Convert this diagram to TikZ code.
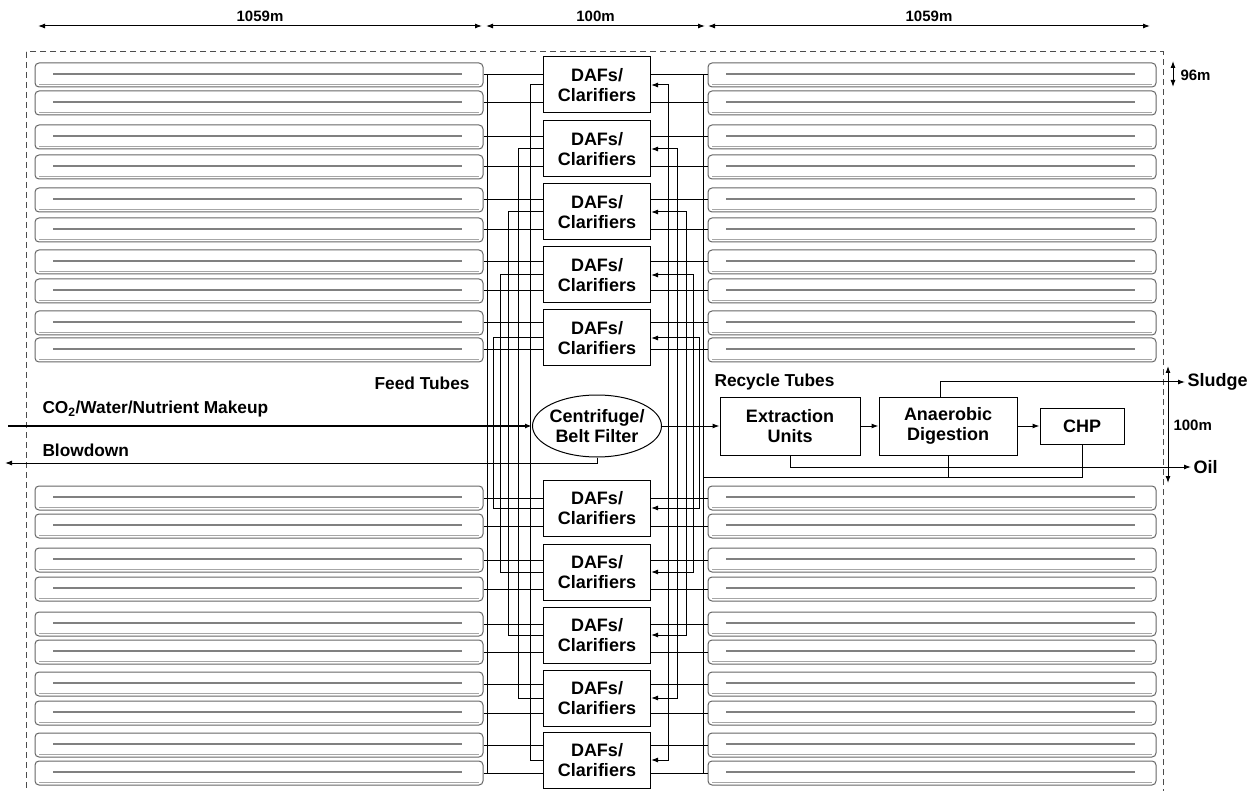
\documentclass[tikz,border=0pt]{standalone}
\usepackage{fontspec}
\setmainfont{Liberation Sans}
\usetikzlibrary{arrows.meta,shapes.geometric}
\tikzset{
  tube/.style={draw=black!60,line width=1pt,rounded corners=4pt,minimum width=448pt,minimum height=24pt,inner sep=0pt,
    path picture={
      \draw[black!50,line width=1.8pt] ([xshift=18pt,yshift=1pt]path picture bounding box.west) -- ([xshift=-21pt,yshift=1pt]path picture bounding box.east);
      \draw[black!35,line width=1pt] ([xshift=4pt,yshift=2.5pt]path picture bounding box.south west) -- ([xshift=-4pt,yshift=2.5pt]path picture bounding box.south east);}},
  unit/.style={draw,line width=1pt,align=center,font=\fontsize{18}{20}\selectfont\bfseries,inner sep=0pt},
  daf/.style={unit,minimum width=107pt,minimum height=56pt},
  tip/.style={-{Latex[length=7pt,width=5pt]}},
  dim/.style={{Latex[length=7pt,width=5pt]}-{Latex[length=7pt,width=5pt]},line width=1pt},
  lbl/.style={font=\fontsize{17.3}{19}\selectfont\bfseries,inner sep=2pt},
  dimlbl/.style={font=\fontsize{15}{17}\selectfont\bfseries,inner sep=2pt},
}
\begin{document}
\begin{tikzpicture}[x=1pt,y=-1pt,line width=1pt]
  \useasboundingbox (0,0) rectangle (1258,791);
  \draw[black!70,line width=1pt,dash pattern=on 6pt off 4pt] (26,52) rectangle (1163,800);
  \foreach \y [count=\i] in {75,103,137,167,200,230,262,291,323,350,498,526,560,589,624,652,684,713,745,773}{
    \node[tube] (tL\i) at (259,\y) {};
    \node[tube] (tR\i) at (932,\y) {};
  }
  \foreach \y [count=\k] in {85,149,212,275,338,508,572,635,698,760}{
    \node[daf] (daf\k) at (597,\y) {DAFs/\\Clarifiers};
  }
  \node[draw,ellipse,minimum width=129pt,minimum height=62pt,inner sep=0pt] (cent) at (597,426) {};
  \node[unit,draw=none] (centlbl) at (cent) {Centrifuge/\\Belt Filter};
  \node[unit,minimum width=140pt,minimum height=58pt] (ext) at (790,426) {Extraction\\Units};
  \node[unit,minimum width=138pt,minimum height=58pt] (ad) at (948,426) {Anaerobic\\Digestion};
  \node[unit,minimum width=84pt,minimum height=36pt] (chp) at (1082,426) {CHP};
  \draw ([xshift=4pt]tL1.east) -- ([xshift=4pt]tL20.east);
  \draw ([xshift=-4pt]tR1.west) -- ([xshift=-4pt]tR20.west);
  \foreach \xl/\xr [count=\k] in {530/668,518/677,508/686,500/693,493/699,493/699,500/693,508/686,518/677,530/668}{
    \pgfmathtruncatemacro\a{2*\k-1}
    \pgfmathtruncatemacro\b{2*\k}
    \draw (tL\a.east) -- (daf\k.west |- tL\a.east);
    \draw (tL\b.east) -- (daf\k.west |- tL\b.east);
    \draw (daf\k.east |- tR\a.west) -- (tR\a.west);
    \draw (daf\k.east |- tR\b.west) -- (tR\b.west);
    \coordinate (inL\k) at (\xl,426);
    \coordinate (inR\k) at (\xr,426);
    \draw (daf\k.west) -| (inL\k);
    \draw[tip] (inR\k) |- (daf\k.east);
  }
  \coordinate (mk) at (8,426);
  \coordinate (bd) at (5,463);
  \coordinate (ret) at (704,477);
  \draw[tip,line width=1.8pt] (mk) -- (cent.west);
  \draw[tip] (cent.south) |- (bd);
  \draw[tip] (cent.east) -- (ext.west);
  \draw[tip] (ext) -- (ad);
  \draw[tip] (ad) -- (chp);
  \node[lbl,anchor=west,font=\fontsize{18}{20}\selectfont\bfseries] (sludge) at (1185,382) {Sludge};
  \node[lbl,anchor=west,font=\fontsize{18}{20}\selectfont\bfseries] (oil) at (1191,467) {Oil};
  \draw[tip] ([xshift=-8pt]ad.north) |- (sludge.west);
  \draw[tip] (ext.south) |- (oil.west);
  \draw (chp.south) |- (ret);
  \draw (ad.south) -- (ad.south |- ret);
  \node[lbl,anchor=west] (mklbl) at (40,409) {CO\textsubscript{2}/Water/Nutrient Makeup};
  \node[lbl,anchor=west] (bdlbl) at (40,450) {Blowdown};
  \node[lbl,anchor=east] (feed) at (472,383) {Feed Tubes};
  \node[lbl,anchor=west] (rec) at (712,382) {Recycle Tubes};
  \coordinate (d0) at (38,26);
  \coordinate (d1) at (482,26);
  \coordinate (d2) at (486,26);
  \coordinate (d3) at (705,26);
  \coordinate (d4) at (708,26);
  \coordinate (d5) at (1150,26);
  \draw[dim] (d0) -- node[dimlbl,above=2pt] (w1) {1059m} (d1);
  \draw[dim] (d2) -- node[dimlbl,above=2pt] (w2) {100m} (d3);
  \draw[dim] (d4) -- node[dimlbl,above=2pt] (w3) {1059m} (d5);
  \coordinate (h0) at (1173,61);
  \coordinate (h1) at (1173,87);
  \coordinate (h2) at (1168,366);
  \coordinate (h3) at (1168,483);
  \draw[dim] (h0) -- (h1);
  \draw[dim] (h2) -- (h3);
  \node[dimlbl,anchor=west] (tubeh) at (1178,75) {96m};
  \node[dimlbl,anchor=west] (gap) at (1171,425) {100m};
\end{tikzpicture}
\end{document}
